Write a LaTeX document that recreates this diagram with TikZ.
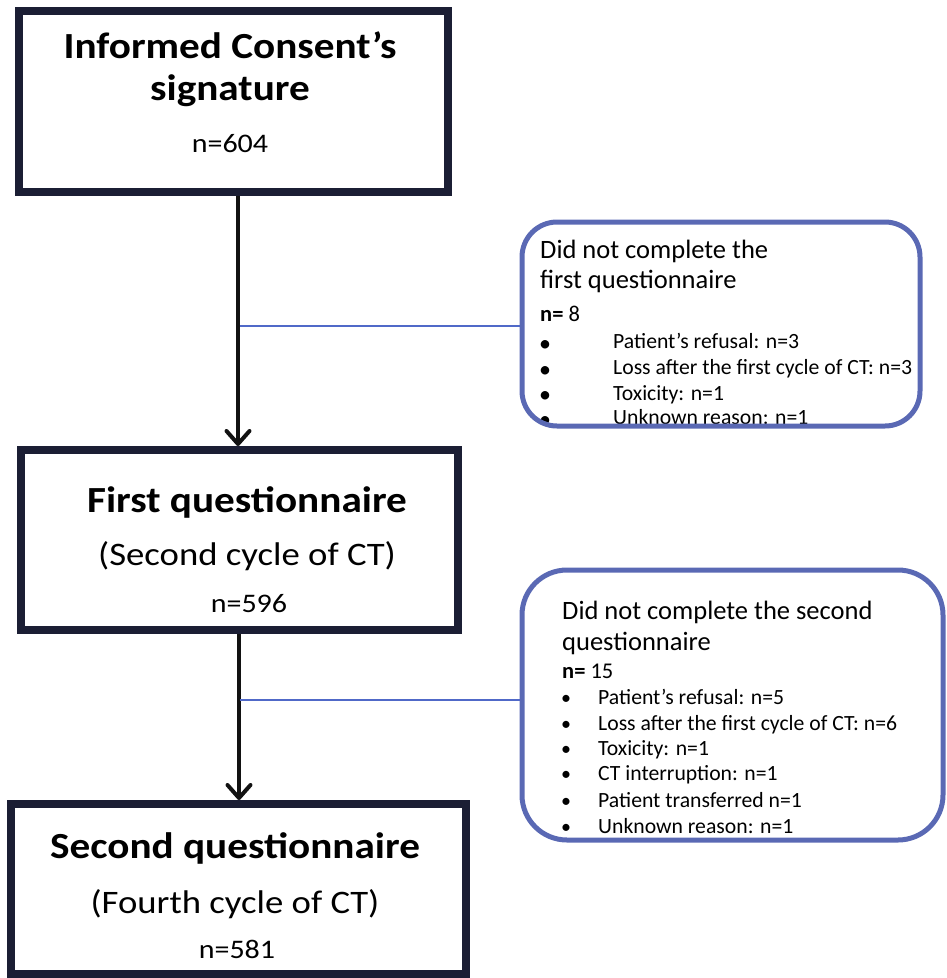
\documentclass[tikz,border=0pt]{standalone}
\usepackage{fontspec}
\setmainfont{Carlito}
\newfontfamily\wide[FakeStretch=1.12]{Carlito}
\usetikzlibrary{arrows.meta,calc}
\definecolor{navy}{RGB}{27,30,52}
\definecolor{rbox}{RGB}{90,105,180}
\definecolor{lblue}{RGB}{80,105,200}
\begin{document}
\begin{tikzpicture}[x=1pt,y=-1pt,
  mainbox/.style={draw=navy,line width=8pt,inner sep=0pt},
  roundbox/.style={draw=rbox,line width=5pt,inner sep=0pt},
  bigtitle/.style={anchor=base,inner sep=0pt,font=\wide\bfseries\fontsize{36.8}{36.8}\selectfont},
  subtitle/.style={anchor=base,inner sep=0pt,font=\wide\fontsize{32.8}{32.8}\selectfont},
  countt/.style={anchor=base,inner sep=0pt,font=\wide\fontsize{26.8}{26.8}\selectfont},
  sidetitle/.style={anchor=base west,inner sep=0pt,font=\fontsize{26.5}{26.5}\selectfont},
  sidecount/.style={anchor=base west,inner sep=0pt,font=\fontsize{22.5}{22.5}\selectfont},
  sideitem/.style={anchor=base west,inner sep=0pt,font=\fontsize{21.7}{21.7}\selectfont},
  bigdot/.style={anchor=base,inner sep=0pt,font=\fontsize{24}{24}\selectfont},
  smalldot/.style={anchor=base,inner sep=0pt,font=\fontsize{20}{20}\selectfont},
  arr/.style={line width=4pt,draw=black!93,-{Straight Barb[length=13pt,width=23pt,round]}},
  link/.style={line width=1.5pt,draw=lblue}
]
\useasboundingbox (0,0) rectangle (946,978);

% main boxes
\node[mainbox,minimum width=429pt,minimum height=181pt] (b1) at (233.5,101.5) {};
\node[mainbox,minimum width=437pt,minimum height=180pt] (b2) at (239.5,540) {};
\node[mainbox,minimum width=455pt,minimum height=170pt] (b3) at (238.5,889) {};

% main box texts
\node[bigtitle] (t1a) at (230,58) {Informed Consent’s};
\node[bigtitle] (t1b) at (230,100) {signature};
\node[countt] (t1c) at (230,152) {n=604};

\node[bigtitle] (t2a) at (247,512) {First questionnaire};
\node[subtitle] (t2b) at (247,565) {(Second cycle of CT)};
\node[countt] (t2c) at (249,612) {n=596};

\node[bigtitle] (t3a) at (235,858) {Second questionnaire};
\node[subtitle] (t3b) at (235,913) {(Fourth cycle of CT)};
\node[countt] (t3c) at (237,958) {n=581};

% side texts A
\node[sidetitle] (a1) at (540,258) {Did not complete the};
\node[sidetitle] (a2) at (540,288) {first questionnaire};
\node[sidecount] (a3) at (540,321) {\textbf{n=} 8};
\node[bigdot] (ad1) at (545,351) {•};
\node[bigdot] (ad2) at (545,377) {•};
\node[bigdot] (ad3) at (545,402) {•};
\node[bigdot] (ad4) at (545,427) {•};
\node[sideitem] (ai1) at (613,348) {Patient’s refusal: n=3};
\node[sideitem] (ai2) at (613,374) {Loss after the first cycle of CT: n=3};
\node[sideitem] (ai3) at (613,400) {Toxicity: n=1};
\node[sideitem] (ai4) at (613,424) {Unknown reason: n=1};

% side texts B
\node[sidetitle] (s1) at (562,619) {Did not complete the second};
\node[sidetitle] (s2) at (562,650) {questionnaire};
\node[sidecount] (s3) at (562,678) {\textbf{n=} 15};
\foreach \y/\t [count=\i] in {704/{Patient’s refusal: n=5},730/{Loss after the first cycle of CT: n=6},755/{Toxicity: n=1},780/{CT interruption: n=1},807/{Patient transferred n=1},833/{Unknown reason: n=1}}{
  \node[smalldot] (sd\i) at (566,\y) {•};
  \node[sideitem] (si\i) at (598,\y) {\t};
}

% rounded boxes (drawn over text)
\node[roundbox,rounded corners=35pt,minimum width=398pt,minimum height=204pt] (ra) at (721,324) {};
\node[roundbox,rounded corners=45pt,minimum width=421pt,minimum height=270pt] (rb) at (732.5,705) {};

% arrows
\draw[arr] ($(b1.south)+(4.5,0)$) -- ($(b2.north)+(-1.5,0)$);
\draw[arr] ($(b2.south)+(-0.5,0)$) -- ($(b3.north)+(0.5,0)$);

% links
\coordinate (j1) at (240,326);
\coordinate (j2) at (240,700);
\draw[link] (j1) -- (j1 -| ra.west);
\draw[link] (j2) -- (j2 -| rb.west);
\end{tikzpicture}
\end{document}
